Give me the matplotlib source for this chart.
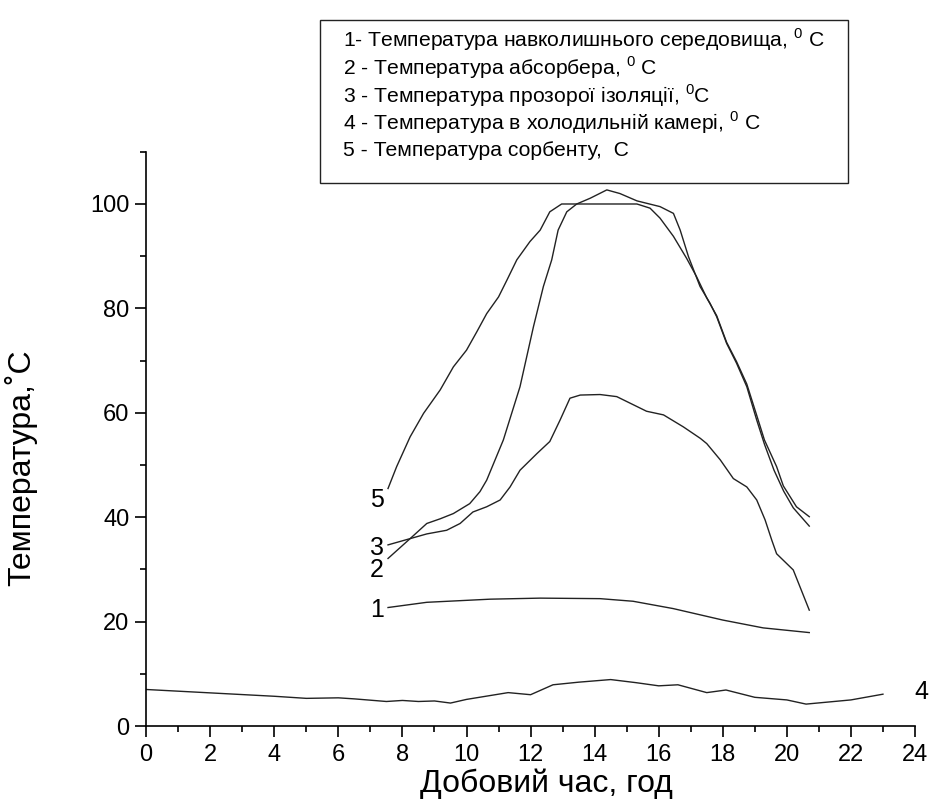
import matplotlib
matplotlib.use('Agg')
import matplotlib.pyplot as plt
from matplotlib.patches import Rectangle
from matplotlib.ticker import MultipleLocator

plt.rcParams['font.family'] = ['Liberation Sans', 'DejaVu Sans']
plt.rcParams['mathtext.fontset'] = 'custom'
plt.rcParams['mathtext.rm'] = 'Liberation Sans'

# 1 - ambient
t1 = [7.55, 8.76, 10.74, 12.3, 14.17, 15.2, 16.45, 18.0, 19.26, 20.7]
y1 = [22.7, 23.7, 24.3, 24.5, 24.4, 23.9, 22.5, 20.3, 18.8, 17.9]

# 2 - absorber
t2 = [7.55, 8.24, 8.76, 9.18, 9.59, 10.1, 10.42, 10.63, 11.15, 11.67, 12.09,
      12.4, 12.66, 12.86, 13.13, 13.44, 13.86, 14.38, 14.79, 15.32, 16.04,
      16.46, 16.67, 16.93, 17.29, 17.6, 17.81, 18.12, 18.43, 18.75, 19.06,
      19.3, 19.6, 19.9, 20.2, 20.7]
y2 = [32.1, 35.9, 38.8, 39.7, 40.7, 42.6, 44.9, 47.1, 54.8, 65.0, 76.5,
      84.2, 89.3, 95.0, 98.5, 100.0, 101.1, 102.7, 102.0, 100.6, 99.5,
      98.2, 95.0, 89.9, 84.2, 81.0, 78.4, 73.3, 69.5, 65.0, 58.6,
      54.0, 49.0, 45.0, 41.8, 38.3]

# 3 - transparent insulation
t3 = [7.55, 8.24, 8.76, 9.38, 9.8, 10.2, 10.63, 11.05, 11.36, 11.67, 12.2,
      12.6, 12.92, 13.23, 13.55, 14.17, 14.69, 15.62, 16.15, 16.77, 17.3,
      17.5, 17.92, 18.33, 18.75, 19.06, 19.32, 19.53, 19.68, 20.2, 20.7]
y3 = [34.7, 35.9, 36.8, 37.5, 38.8, 41.0, 42.0, 43.3, 45.8, 49.0, 52.2,
      54.5, 58.6, 62.8, 63.4, 63.5, 63.1, 60.3, 59.6, 57.3, 55.1,
      54.1, 51.0, 47.4, 45.8, 43.3, 39.5, 35.6, 33.0, 29.9, 22.2]

# 4 - cold chamber
t4 = [0, 4, 5, 6, 6.5, 7.5, 8, 8.5, 9, 9.5, 10, 11.3, 12, 12.7, 13.5, 14.5,
      15.3, 16, 16.6, 17.5, 18.1, 19, 20, 20.6, 22, 23]
y4 = [7.0, 5.7, 5.3, 5.4, 5.2, 4.7, 4.9, 4.7, 4.8, 4.4, 5.1, 6.4, 6.0, 7.9,
      8.4, 8.9, 8.3, 7.7, 7.9, 6.4, 6.9, 5.5, 5.0, 4.2, 5.0, 6.1]

# 5 - sorbent
t5 = [7.55, 7.82, 8.24, 8.66, 9.18, 9.59, 10.0, 10.32, 10.63, 11.0, 11.26,
      11.57, 11.98, 12.3, 12.6, 12.97, 15.32, 15.73, 16.04, 16.46, 16.87,
      17.18, 17.5, 17.81, 18.12, 18.43, 18.75, 19.06, 19.3, 19.68, 19.89,
      20.3, 20.7]
y5 = [45.5, 49.7, 55.4, 59.9, 64.4, 68.8, 72.0, 75.5, 79.0, 82.2, 85.4,
      89.3, 92.8, 95.0, 98.5, 100.0, 100.0, 99.2, 97.3, 93.8, 89.6,
      86.1, 82.0, 78.6, 73.5, 69.8, 65.5, 59.5, 54.8, 49.7, 46.0,
      42.0, 40.1]

legend_lines = [
    '1- Температура навколишнього середовища, $^0$ C',
    '2 - Температура абсорбера, $^0$ C',
    '3 - Температура прозорої ізоляції, $^0$C',
    '4 - Температура в холодильній камері, $^0$ C',
    '5 - Температура сорбенту,  C',
]

fig = plt.figure(figsize=(9.37, 8.01), dpi=100)
ax = fig.add_axes([0.156, 0.0936, 0.8205, 0.7169])

for t, y in [(t1, y1), (t2, y2), (t3, y3), (t4, y4), (t5, y5)]:
    ax.plot(t, y, color='#222222', lw=1.0)

ax.set_xlim(0, 24)
ax.set_ylim(0, 110)
ax.set_xticks(range(0, 25, 2))
ax.set_yticks(range(0, 101, 20))
ax.xaxis.set_minor_locator(MultipleLocator(1))
ax.yaxis.set_minor_locator(MultipleLocator(10))
ax.spines['top'].set_visible(False)
ax.spines['right'].set_visible(False)
for s in ['left', 'bottom']:
    ax.spines[s].set_linewidth(1.2)
ax.tick_params(which='major', direction='out', length=8, width=1.2, labelsize=17)
ax.tick_params(which='minor', direction='out', length=4.5, width=1.2)
ax.tick_params(axis='x', which='major', pad=5)
ax.tick_params(axis='y', which='major', pad=4)

ax.set_xlabel('Добовий час, год', fontsize=23)
ax.xaxis.set_label_coords(0.52, -0.074)
ax.set_ylabel('Температура,˚С', fontsize=23)
ax.yaxis.set_label_coords(-0.142, 0.45)

# curve labels
lab_kw = dict(fontsize=18, ha='center', va='center', clip_on=False)
ax.text(7.2, 43.3, '5', **lab_kw)
ax.text(7.2, 34.1, '3', **lab_kw)
ax.text(7.2, 29.8, '2', **lab_kw)
ax.text(7.2, 22.2, '1', **lab_kw)
ax.text(24.2, 6.5, '4', **lab_kw)

# legend box
fig.patches.append(Rectangle((0.3415, 0.7715), 0.5635, 0.2035, transform=fig.transFigure,
                             fill=False, edgecolor='#222222', lw=1.0))
for i, s in enumerate(legend_lines):
    fig.text(0.366, 0.950 - i * 0.0345, s, fontsize=15.2, va='center', ha='left')

fig.savefig('out.png', dpi=100)
